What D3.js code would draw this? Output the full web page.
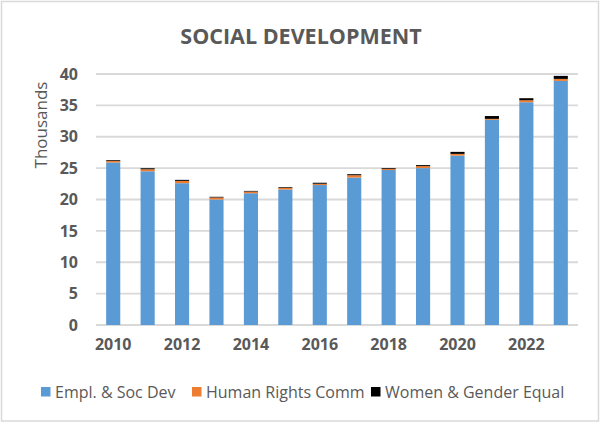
<!DOCTYPE html>
<html><head><meta charset="utf-8">
<script src="https://cdn.jsdelivr.net/npm/d3@7"></script>
<style>body{margin:0;background:#fff}svg{display:block}text{font-family:"Open Sans",sans-serif;fill:#595959}</style>
</head><body><svg id="c" width="602" height="424"></svg>
<script>
const years = [2010,2011,2012,2013,2014,2015,2016,2017,2018,2019,2020,2021,2022,2023];
const emplSocDev = [25.9,24.5,22.6,20.0,21.0,21.6,22.3,23.5,24.7,25.0,27.0,32.7,35.5,38.9];
const humanRights = [0.25,0.32,0.37,0.32,0.27,0.26,0.21,0.37,0.2,0.32,0.27,0.15,0.32,0.32];
const womenGender = [0.12,0.16,0.16,0.11,0.1,0.11,0.16,0.16,0.12,0.16,0.32,0.45,0.32,0.48];
const seriesNames = ["Empl. & Soc Dev","Human Rights Comm","Women & Gender Equal"];
const colors = ["#5B9BD5","#ED7D31","#000000"];
const yTicks = [0,5,10,15,20,25,30,35,40];
const xLabels = [2010,2012,2014,2016,2018,2020,2022];

const svg = d3.select("#c");
svg.append("rect").attr("x",1.5).attr("y",1.5).attr("width",597).attr("height",419.5)
  .attr("fill","#fff").attr("stroke","#D9D9D9").attr("stroke-width",1.5);

const x = d3.scaleBand().domain(years).range([96,578]).paddingInner(0.59).paddingOuter(0.295);
const y = d3.scaleLinear().domain([0,40]).range([325,74]);

const g = svg.append("g");
g.selectAll(".grid").data(yTicks).join("line")
  .attr("x1",96).attr("x2",578).attr("y1",d=>y(d)).attr("y2",d=>y(d))
  .attr("stroke","#D9D9D9").attr("stroke-width",1.8);

const table = years.map((yr,i)=>({year:yr, a:emplSocDev[i], b:humanRights[i], c:womenGender[i]}));
const stacked = d3.stack().keys(["a","b","c"])(table);
g.selectAll(".s").data(stacked).join("g").attr("fill",(d,i)=>colors[i])
  .selectAll("rect").data(d=>d).join("rect")
  .attr("x",d=>x(d.data.year)).attr("width",x.bandwidth())
  .attr("y",d=>y(d[1])).attr("height",d=>y(d[0])-y(d[1]));

// y axis labels
const ya = d3.axisLeft(y).tickValues(yTicks).tickSize(0).tickPadding(0);
const yg = svg.append("g").attr("transform","translate(78,0)").call(ya);
yg.select(".domain").remove();
yg.selectAll("text").attr("font-size",16).attr("font-weight","bold").attr("fill","#595959")
  .style("font-family","'Open Sans',sans-serif");

// x axis labels
const xa = d3.axisBottom(x).tickValues(xLabels).tickSize(0).tickPadding(0);
const xg = svg.append("g").attr("transform","translate(0,339)").call(xa);
xg.select(".domain").remove();
xg.selectAll("text").attr("font-size",16).attr("font-weight","bold").attr("fill","#595959")
  .style("font-family","'Open Sans',sans-serif");

svg.append("text").attr("x",301).attr("y",44).attr("text-anchor","middle")
  .attr("font-size",21.5).attr("font-weight","bold").text("SOCIAL DEVELOPMENT");
svg.append("text").attr("transform","translate(47,125) rotate(-90)").attr("text-anchor","middle")
  .attr("font-size",17).text("Thousands");

// legend
const legX = [41,192,371];
const lg = svg.append("g").selectAll("g").data(seriesNames).join("g")
  .attr("transform",(d,i)=>`translate(${legX[i]},387)`);
lg.append("rect").attr("width",9.5).attr("height",9.5).attr("fill",(d,i)=>colors[i]);
lg.append("text").attr("x",14).attr("y",10.5).attr("font-size",16).text(d=>d);
</script></body></html>
